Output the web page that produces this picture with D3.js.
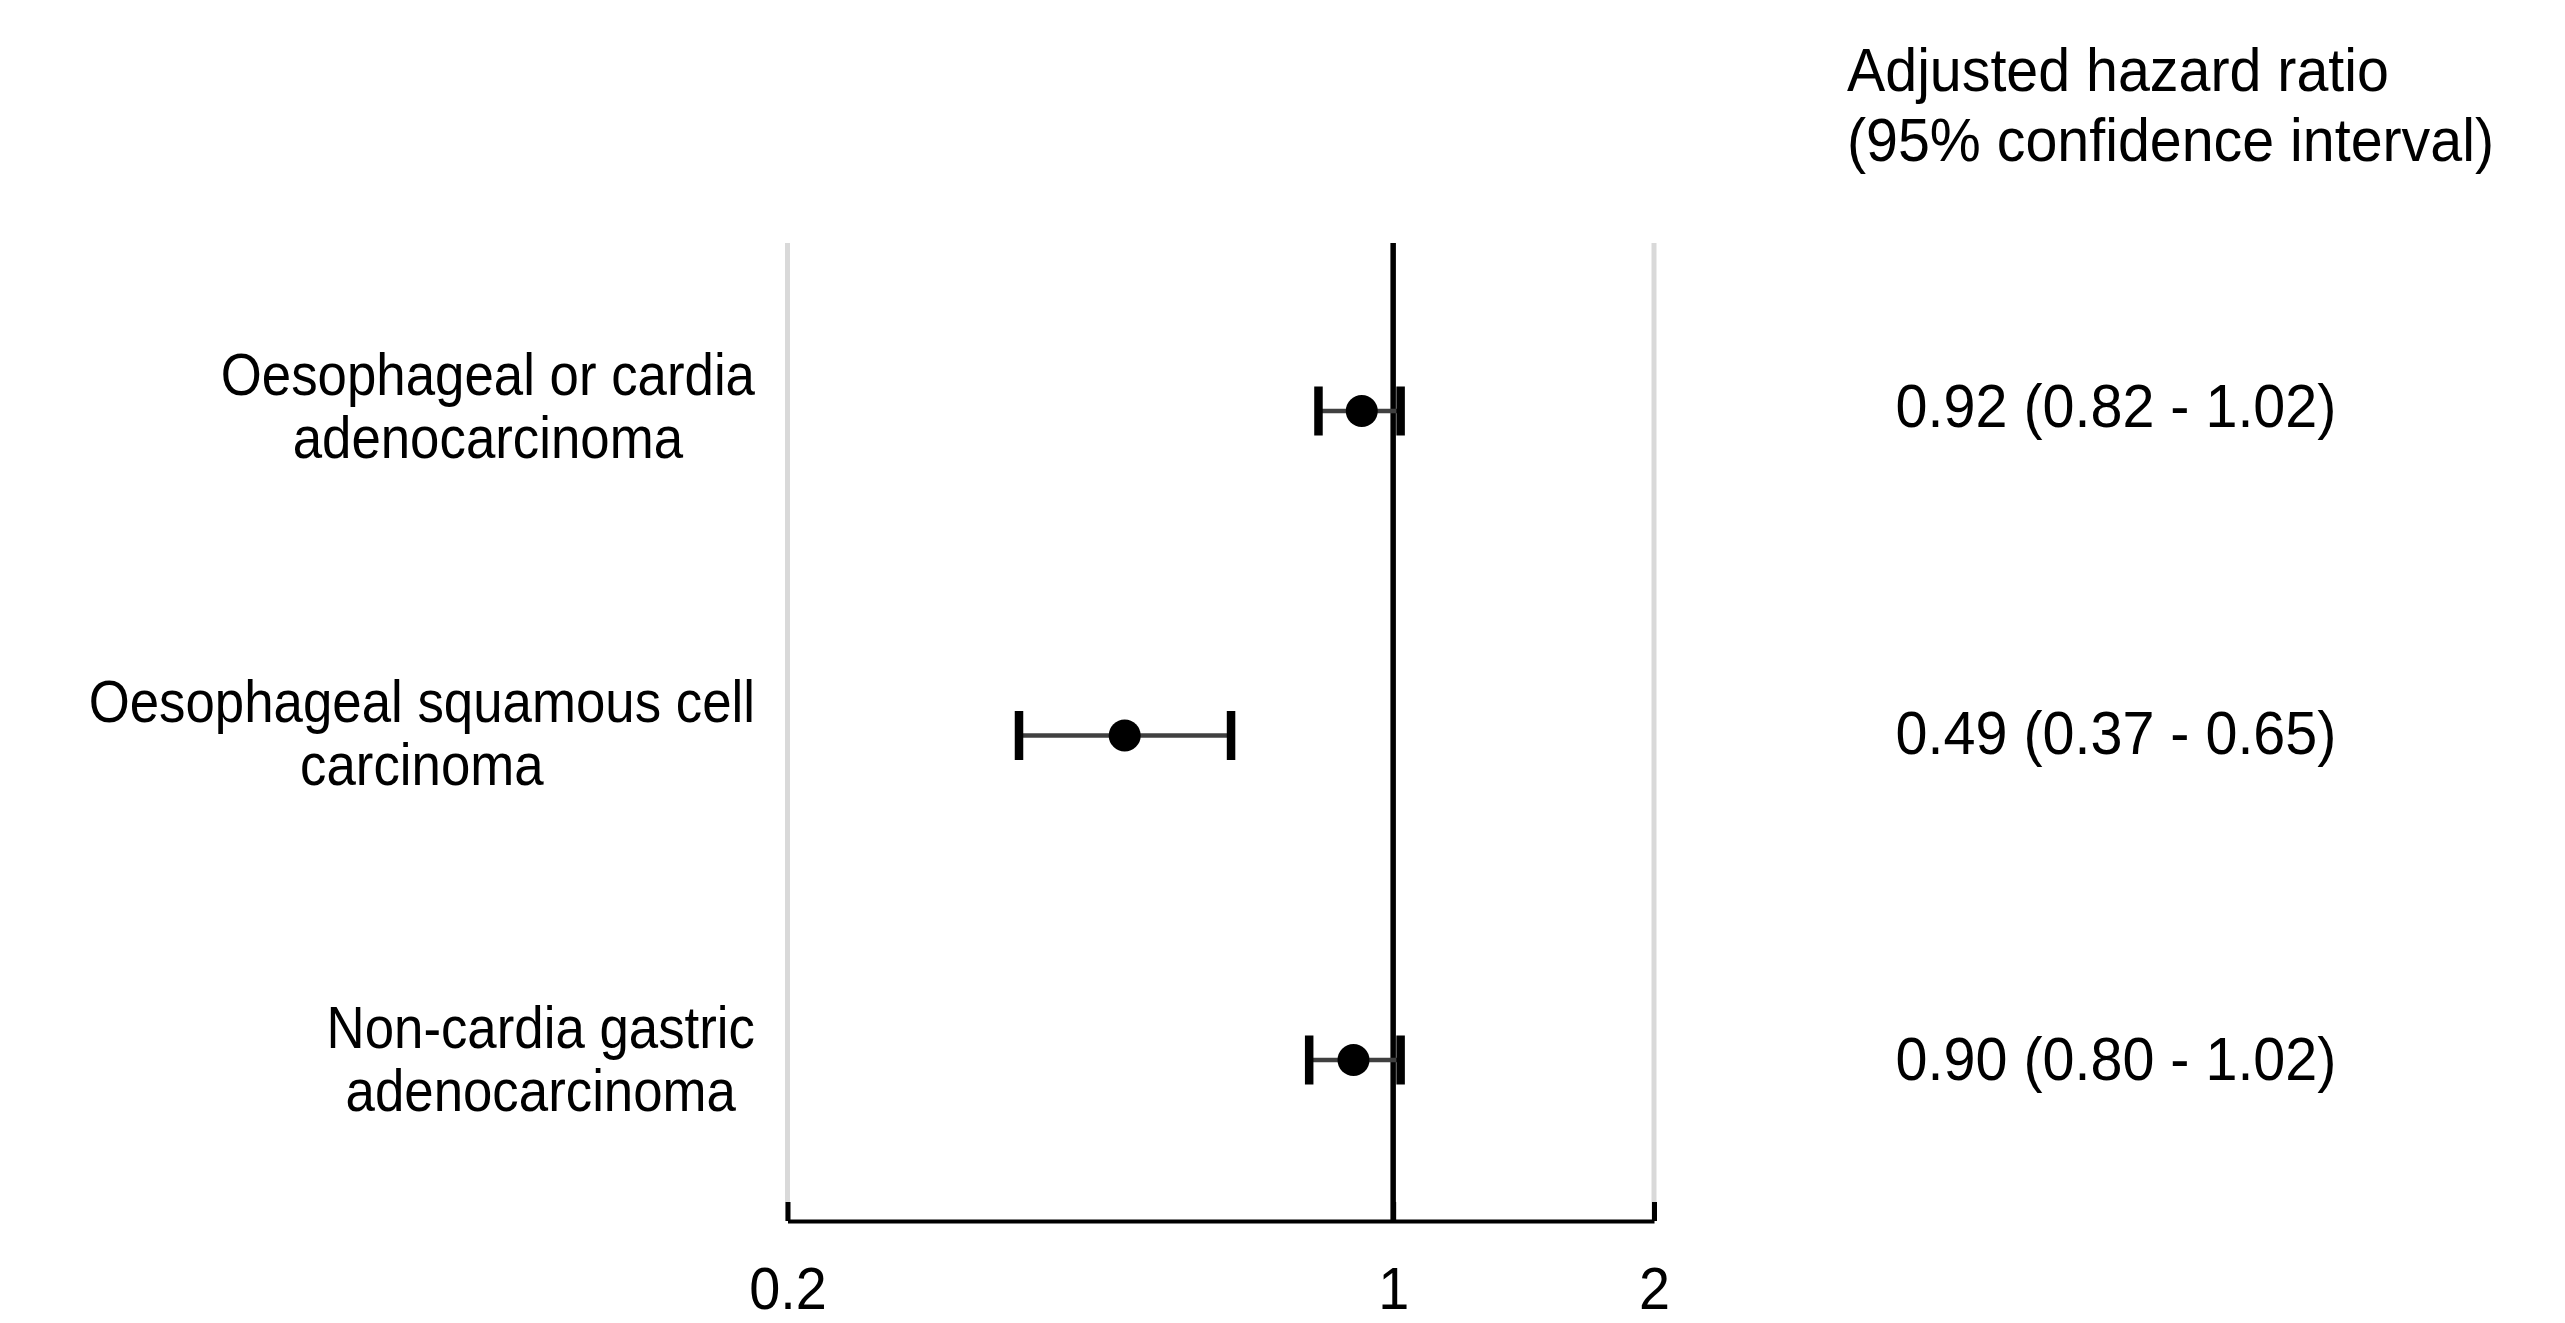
<!DOCTYPE html>
<html>
<head>
<meta charset="utf-8">
<script src="https://cdn.jsdelivr.net/npm/d3@7"></script>
<style>
  html, body { margin: 0; padding: 0; background: #ffffff; }
  svg { display: block; }
  text { font-family: "Liberation Sans", Arial, sans-serif; fill: #000; }
</style>
</head>
<body>
<svg id="chart" width="2565" height="1323"></svg>
<script>
// ---- data ----
const categories = ["Oesophageal or cardia adenocarcinoma", "Oesophageal squamous cell carcinoma", "Non-cardia gastric adenocarcinoma"];
const labelLines = [["Oesophageal or cardia", "adenocarcinoma"], ["Oesophageal squamous cell", "carcinoma"], ["Non-cardia gastric", "adenocarcinoma"]];
const hazardRatio = [0.92, 0.49, 0.90];
const ciLower = [0.82, 0.37, 0.80];
const ciUpper = [1.02, 0.65, 1.02];
const tickValues = [0.2, 1, 2];
const tickLabels = ["0.2", "1", "2"];
const titleLines = ["Adjusted hazard ratio", "(95% confidence interval)"];

// ---- layout ----
const W = 2565, H = 1323;
const svg = d3.select("#chart");
const plotTop = 243, axisY = 1221;

const x = d3.scaleLog().domain([0.2, 2]).range([787.5, 1654]);
const y = d3.scalePoint().domain(categories).range([411, 1060]);
const yLabel = d3.scalePoint().domain(categories).range([395, 1048]);
const yValue = d3.scalePoint().domain(categories).range([427, 1080]);

function fit(sel, k) {
  sel.each(function () {
    const w = this.getComputedTextLength();
    d3.select(this).attr("textLength", w * k).attr("lengthAdjust", "spacingAndGlyphs");
  });
}

const rows = categories.map((c, i) => ({
  cat: c, lines: labelLines[i], hr: hazardRatio[i], lo: ciLower[i], hi: ciUpper[i]
}));

// gridlines at axis ends
svg.append("g").selectAll("line")
  .data([tickValues[0], tickValues[tickValues.length - 1]])
  .join("line")
  .attr("x1", d => x(d)).attr("x2", d => x(d))
  .attr("y1", plotTop).attr("y2", axisY)
  .attr("stroke", "#d9d9d9").attr("stroke-width", 5);

// axis
const axis = d3.axisBottom(x)
  .tickValues(tickValues)
  .tickFormat((d, i) => tickLabels[i])
  .tickSizeInner(-19)
  .tickSizeOuter(0);
const gAxis = svg.append("g").attr("transform", `translate(0,${axisY})`).call(axis);
gAxis.select(".domain").attr("stroke", "#000").attr("stroke-width", 4);
gAxis.selectAll(".tick line").attr("stroke", "#000").attr("stroke-width", 5);
gAxis.selectAll(".tick text")
  .attr("y", 88).attr("dy", 0)
  .attr("font-size", 60)
  .attr("font-family", "Liberation Sans, Arial, sans-serif")
  .attr("fill", "#000")
  .call(fit, 0.93);

// reference line at 1
svg.append("line")
  .attr("x1", x(1)).attr("x2", x(1))
  .attr("y1", plotTop).attr("y2", axisY)
  .attr("stroke", "#000").attr("stroke-width", 5.5);

// CI lines
const gMarks = svg.append("g");
gMarks.selectAll("line.ci").data(rows).join("line").attr("class", "ci")
  .attr("x1", d => x(d.lo)).attr("x2", d => x(d.hi))
  .attr("y1", d => y(d.cat)).attr("y2", d => y(d.cat))
  .attr("stroke", "#404040").attr("stroke-width", 4.5);

// caps
const capW = 8.5, capH = 49;
gMarks.selectAll("rect.capL").data(rows).join("rect").attr("class", "capL")
  .attr("x", d => x(d.lo) - capW / 2).attr("y", d => y(d.cat) - capH / 2)
  .attr("width", capW).attr("height", capH).attr("fill", "#000");
gMarks.selectAll("rect.capR").data(rows).join("rect").attr("class", "capR")
  .attr("x", d => x(d.hi) - capW / 2).attr("y", d => y(d.cat) - capH / 2)
  .attr("width", capW).attr("height", capH).attr("fill", "#000");

// points
gMarks.selectAll("circle").data(rows).join("circle")
  .attr("cx", d => x(d.hr)).attr("cy", d => y(d.cat))
  .attr("r", 16).attr("fill", "#000");

// row labels: block right-aligned, lines centered
const labelRight = 755;
const gLab = svg.append("g");
rows.forEach(r => {
  const g = gLab.append("g");
  const texts = g.selectAll("text").data(r.lines).join("text")
    .attr("font-size", 59)
    .attr("text-anchor", "middle")
    .attr("y", (d, j) => yLabel(r.cat) + j * 63)
    .text(d => d);
  fit(texts, 0.895);
  let maxW = 0;
  texts.each(function () { maxW = Math.max(maxW, +this.getAttribute("textLength")); });
  texts.attr("x", labelRight - maxW / 2);
});

// value text
svg.append("g").selectAll("text").data(rows).join("text")
  .attr("x", 2116).attr("y", d => yValue(d.cat))
  .attr("text-anchor", "middle")
  .attr("font-size", 61)
  .text(d => `${d.hr.toFixed(2)} (${d.lo.toFixed(2)} - ${d.hi.toFixed(2)})`)
  .call(fit, 0.942);

// column title
svg.append("g").selectAll("text").data(titleLines).join("text")
  .attr("x", 1847).attr("y", (d, i) => 91 + i * 70)
  .attr("font-size", 61)
  .text(d => d)
  .call(fit, 0.94);
</script>
</body>
</html>
